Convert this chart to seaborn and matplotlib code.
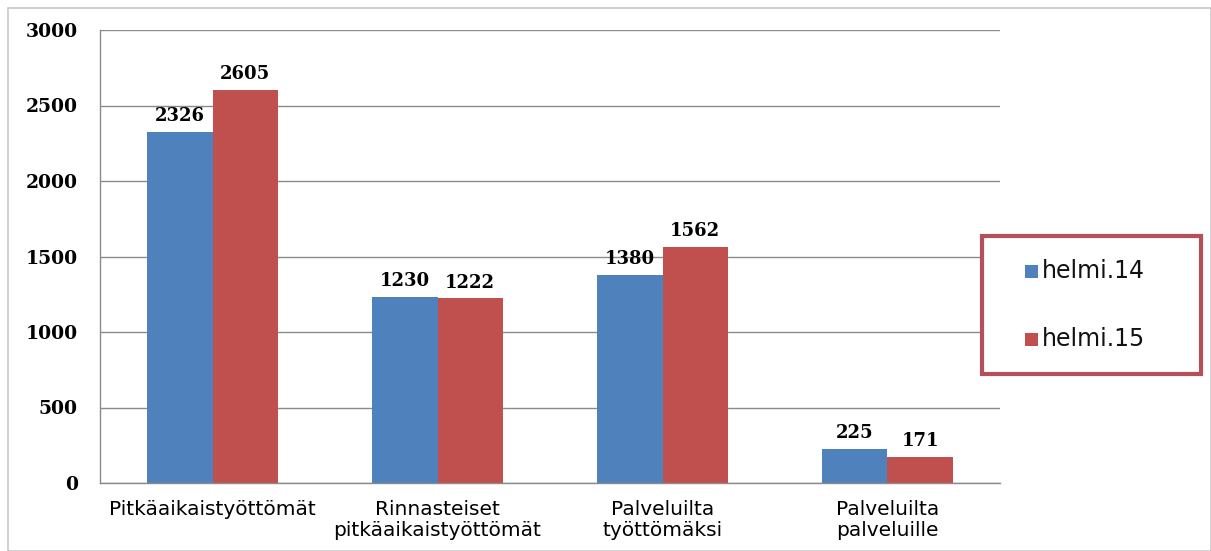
import pandas as pd
import matplotlib
matplotlib.use("Agg")
import matplotlib.pyplot as plt
from matplotlib.patches import Rectangle
import seaborn as sns

categories = ["Pitkäaikaistyöttömät", "Rinnasteiset\npitkäaikaistyöttömät",
              "Palveluilta\ntyöttömäksi", "Palveluilta\npalveluille"]
helmi14 = [2326, 1230, 1380, 225]
helmi15 = [2605, 1222, 1562, 171]
series = ["helmi.14", "helmi.15"]
colors = ["#4f81bd", "#c0504d"]

df = pd.DataFrame({
    "kategoria": categories * 2,
    "arvo": helmi14 + helmi15,
    "sarja": [series[0]] * len(categories) + [series[1]] * len(categories),
})

sns.set_theme(style="white")
plt.rcParams["font.family"] = ["DejaVu Sans"]
plt.rcParams["text.color"] = "black"
plt.rcParams["xtick.color"] = "black"
plt.rcParams["ytick.color"] = "black"

fig = plt.figure(figsize=(12.11, 5.51), dpi=100)
ax = fig.add_axes([100 / 1211, 1 - 483 / 551, 900 / 1211, 453 / 551])

sns.barplot(data=df, x="kategoria", y="arvo", hue="sarja", palette=colors,
            width=0.58, saturation=1, linewidth=0, ax=ax, legend=False)

ax.set_ylim(0, 3000)
ax.set_yticks(range(0, 3001, 500))
ax.set_xlim(-0.5, len(categories) - 0.5)
ax.yaxis.grid(True, color="#8a8a8a", linewidth=1)
ax.set_axisbelow(True)
ax.set_xlabel("")
ax.set_ylabel("")
for s in ["top", "right"]:
    ax.spines[s].set_visible(False)
for s in ["left", "bottom"]:
    ax.spines[s].set_color("#8a8a8a")
    ax.spines[s].set_linewidth(1)

ax.tick_params(axis="y", labelsize=13.5, pad=16, length=0)
ax.tick_params(axis="x", labelsize=14.5, pad=12, length=0)
for lab in ax.get_yticklabels():
    lab.set_fontweight("bold")
    lab.set_family("DejaVu Serif")
for lab in ax.get_xticklabels():
    lab.set_linespacing(1.15)

for cont in ax.containers:
    ax.bar_label(cont, padding=5, fontsize=13, fontweight="bold", family="DejaVu Serif")

# outer border
fig.patches.append(Rectangle((8 / 1211, 0), 1 - 8 / 1211, 1 - 8 / 551, transform=fig.transFigure,
                             fill=False, edgecolor="#c8c8c8", linewidth=1.2))
# legend box
fig.patches.append(Rectangle((982 / 1211, 1 - 374 / 551), 219 / 1211, 138 / 551,
                             transform=fig.transFigure, fill=True, facecolor="white",
                             edgecolor="#b5505a", linewidth=3, zorder=5))
for i, (name, c) in enumerate(zip(series, colors)):
    yc = 1 - (271 + i * 68) / 551
    fig.patches.append(Rectangle((1025 / 1211, yc - 6.5 / 551), 13 / 1211, 13 / 551,
                                 transform=fig.transFigure, facecolor=c, edgecolor="none", zorder=6))
    fig.text(1042 / 1211, yc, name, fontsize=17, va="center", ha="left",
             family="DejaVu Sans", color="#111111", zorder=7)

fig.savefig("out.png", dpi=100)
